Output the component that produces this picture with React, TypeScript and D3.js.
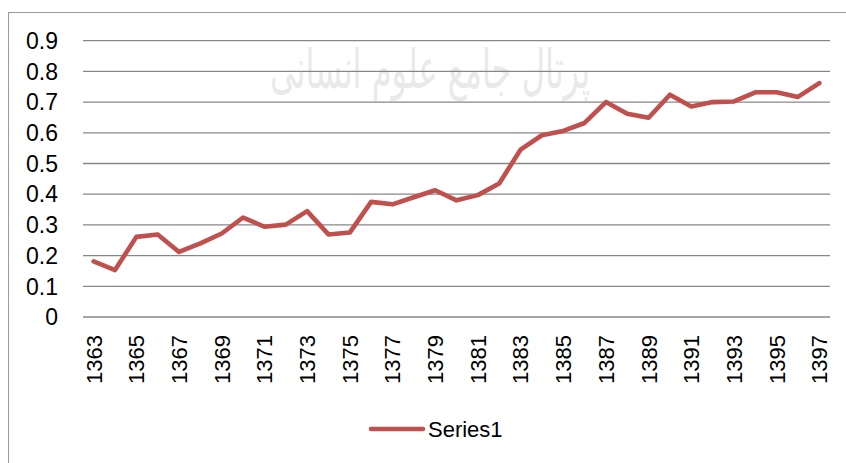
import { useEffect, useRef } from 'react';
import * as d3 from 'd3';

const years = d3.range(1363, 1398).map(String);
const values = [
    0.181, 0.153, 0.261, 0.269, 0.212, 0.24, 0.272, 0.324, 0.294, 0.301,
    0.345, 0.269, 0.275, 0.375, 0.367, 0.39, 0.413, 0.38, 0.397, 0.435,
    0.545, 0.592, 0.606, 0.632, 0.70, 0.662, 0.649, 0.724, 0.686, 0.70,
    0.702, 0.732, 0.732, 0.717, 0.762
];
const yTicks = [0, 0.1, 0.2, 0.3, 0.4, 0.5, 0.6, 0.7, 0.8, 0.9];
const seriesName = 'Series1';
const watermark = 'پرتال جامع علوم انسانی';

const W = 846;
const H = 463;
const plot = { left: 83, right: 830, top: 40.7, bottom: 317 };
const LINE_COLOR = '#C0504D';
const FONT = '"Liberation Sans", Arial, sans-serif';

export default function App() {
    const svgRef = useRef(null);

    useEffect(() => {
        const svg = d3.select(svgRef.current);
        svg.selectAll('*').remove();

        const x = d3.scaleBand().domain(years).range([plot.left, plot.right]);
        const y = d3.scaleLinear().domain([0, 0.9]).range([plot.bottom, plot.top]);

        // chart frame (runs off the right/bottom of the picture)
        svg.append('rect')
            .attr('x', 8.5).attr('y', 12.5)
            .attr('width', W + 20).attr('height', H)
            .attr('fill', 'white')
            .attr('stroke', '#9a9a9a').attr('stroke-width', 1);

        // faint watermark
        svg.append('text')
            .attr('transform', 'translate(430, 88) scale(1, 1.7)')
            .attr('text-anchor', 'middle')
            .attr('font-family', '"DejaVu Sans", sans-serif')
            .attr('font-size', 32)
            .attr('fill', '#b8b8b8')
            .attr('opacity', 0.3)
            .attr('direction', 'rtl')
            .text(watermark);

        // gridlines
        svg.append('g').selectAll('line').data(yTicks).enter().append('line')
            .attr('x1', plot.left).attr('x2', plot.right)
            .attr('y1', (d) => y(d)).attr('y2', (d) => y(d))
            .attr('stroke', '#878787').attr('stroke-width', 1.3);

        // y labels
        svg.append('g').selectAll('text').data(yTicks).enter().append('text')
            .attr('x', 58).attr('y', (d) => y(d))
            .attr('dy', '0.36em')
            .attr('text-anchor', 'end')
            .attr('font-family', FONT).attr('font-size', 23)
            .attr('fill', '#000')
            .text((d) => String(d));

        // x labels (every other year)
        const xl = years.filter((d, i) => i % 2 === 0);
        svg.append('g').selectAll('text').data(xl).enter().append('text')
            .attr('transform', (d) => `translate(${x(d) + x.bandwidth() / 2}, 335) rotate(-90)`)
            .attr('dy', '0.36em')
            .attr('text-anchor', 'end')
            .attr('font-family', FONT).attr('font-size', 22)
            .attr('fill', '#000')
            .text((d) => d);

        // series line
        const line = d3.line()
            .x((d, i) => x(years[i]) + x.bandwidth() / 2)
            .y((d) => y(d));

        svg.append('path')
            .datum(values)
            .attr('d', line)
            .attr('fill', 'none')
            .attr('stroke', LINE_COLOR)
            .attr('stroke-width', 4.6)
            .attr('stroke-linejoin', 'round')
            .attr('stroke-linecap', 'round');

        // legend
        const lg = svg.append('g');
        lg.append('line')
            .attr('x1', 371).attr('x2', 423)
            .attr('y1', 429).attr('y2', 429)
            .attr('stroke', LINE_COLOR).attr('stroke-width', 4.6)
            .attr('stroke-linecap', 'round');
        lg.append('text')
            .attr('x', 428).attr('y', 429)
            .attr('dy', '0.36em')
            .attr('font-family', FONT).attr('font-size', 22)
            .attr('fill', '#000')
            .text(seriesName);
    }, []);

    return (
        <svg ref={svgRef} width={W} height={H}
            style={{ position: 'absolute', left: 0, top: 0, background: 'white' }} />
    );
}
